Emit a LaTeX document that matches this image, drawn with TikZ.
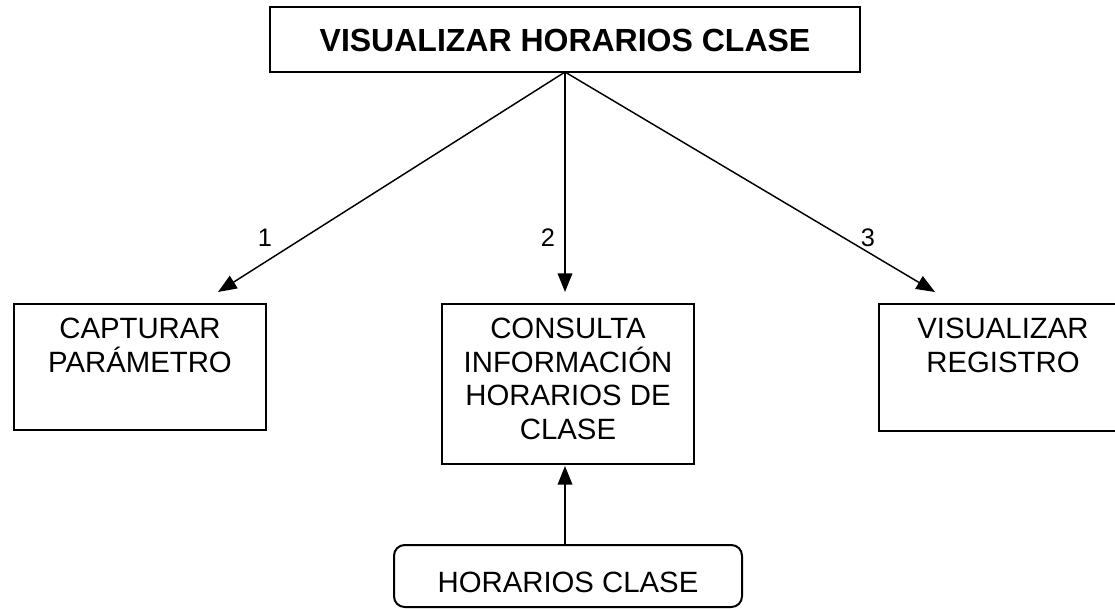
\documentclass[tikz,border=0pt]{standalone}
\usepackage{fontspec}
\setmainfont{Liberation Sans}
\usetikzlibrary{arrows.meta}
\begin{document}
\begin{tikzpicture}[x=0.75pt,y=-0.75pt,
  box/.style={draw,line width=1.5pt,rectangle,inner sep=0pt},
  rbox/.style={box,rounded corners=8pt},
  boxtext/.style={anchor=north,inner sep=0pt,align=center,font=\fontsize{22}{25.1}\selectfont},
  title/.style={font=\fontsize{24}{28}\selectfont\bfseries},
  lbl/.style={font=\fontsize{19}{22}\selectfont,inner sep=0pt},
  conn/.style={line width=1.1pt,-{Triangle[length=14pt,width=11pt]}}]
\useasboundingbox (0,0) rectangle (1115,608);
\node[box,minimum width=590*0.75pt,minimum height=65*0.75pt] (top) at (565,39.5) {};
\node[title] (toptext) at (565,40) {VISUALIZAR HORARIOS CLASE};
\coordinate (o) at (565,72);
\node[box,minimum width=252*0.75pt,minimum height=126*0.75pt] (left) at (140,367) {};
\node[boxtext] (lefttext) at (140,318) {CAPTURAR\\PARÁMETRO};
\node[box,minimum width=252*0.75pt,minimum height=160*0.75pt] (mid) at (568,384) {};
\node[boxtext] (midtext) at (568,318) {CONSULTA\\INFORMACIÓN\\HORARIOS DE\\CLASE};
\node[box,minimum width=248*0.75pt,minimum height=127*0.75pt] (right) at (1003,367.5) {};
\node[boxtext] (righttext) at (1003,318) {VISUALIZAR\\REGISTRO};
\node[rbox,minimum width=348*0.75pt,minimum height=62*0.75pt] (bot) at (568,576) {};
\node[boxtext,anchor=center] (bottext) at (568,582) {HORARIOS CLASE};
\coordinate (t1) at (218,292);
\coordinate (t2) at (565,292);
\coordinate (t3) at (935,292);
\coordinate (b0) at (565,545);
\coordinate (b1) at (565,466);
\draw[conn] (o) -- (t1);
\draw[conn] (o) -- (t2);
\draw[conn] (o) -- (t3);
\draw[conn] (b0) -- (b1);
\node[lbl] (l1) at (265,238) {1};
\node[lbl] (l2) at (548,238) {2};
\node[lbl] (l3) at (868,238) {3};
\end{tikzpicture}
\end{document}
